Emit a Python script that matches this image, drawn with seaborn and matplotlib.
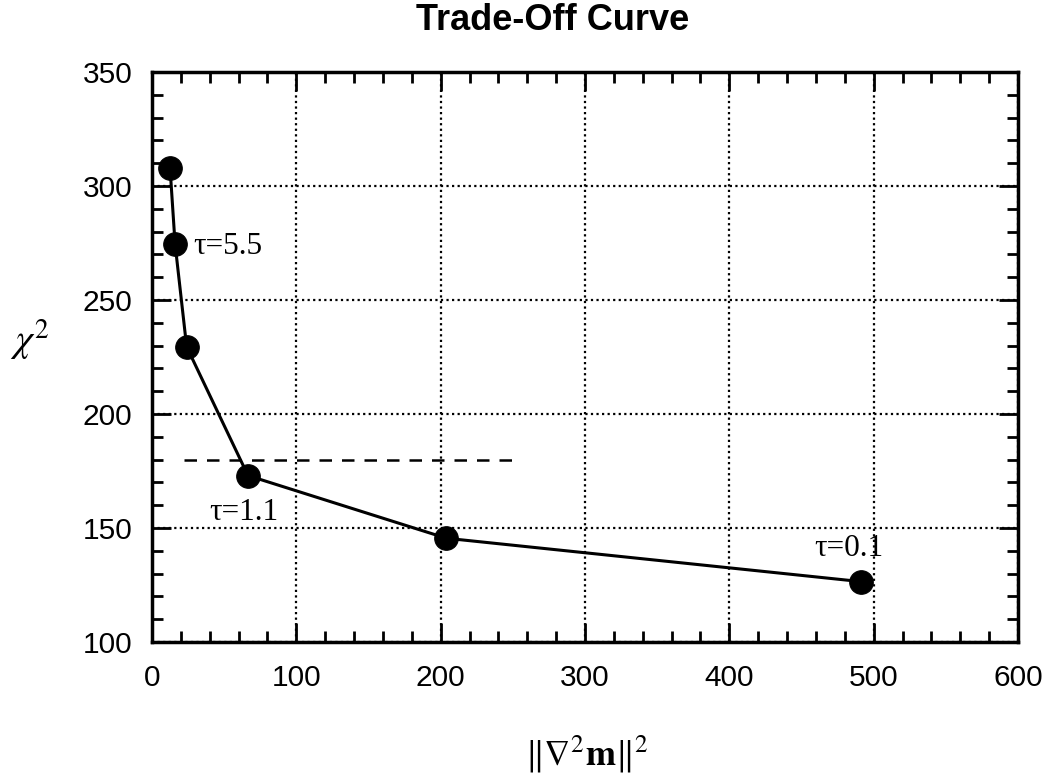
import matplotlib
matplotlib.use("Agg")
import matplotlib.pyplot as plt
import seaborn as sns
import pandas as pd
from matplotlib.ticker import MultipleLocator

# Data
norm_vals = [12.5, 16, 24, 66.5, 204, 491]
chi2_vals = [308, 274.5, 229.5, 173, 145.5, 126.5]
target_x = [22, 252]
target_y = [180, 180]
labels = ["τ=5.5", "τ=1.1", "τ=0.1"]
label_pos = [(28.5, 273.5), (40, 157), (459, 141)]

sns.set_theme(style="ticks")
plt.rcParams['font.family'] = ['Liberation Sans', 'DejaVu Sans']
plt.rcParams['mathtext.fontset'] = 'stix'
plt.rcParams['text.color'] = 'black'
plt.rcParams['axes.labelcolor'] = 'black'
plt.rcParams['xtick.color'] = 'black'
plt.rcParams['ytick.color'] = 'black'

df = pd.DataFrame({"norm": norm_vals, "chi2": chi2_vals})

fig = plt.figure(figsize=(10.44, 7.73), dpi=100)
ax = fig.add_axes([152/1044, 1-642/773, (1018-152)/1044, (642-72)/773])

sns.lineplot(data=df, x="norm", y="chi2", ax=ax, color="black", linewidth=2.2,
             marker="o", markersize=17, markeredgecolor="black",
             markerfacecolor="black", sort=False, zorder=3)
ax.plot(target_x, target_y, color="black", linestyle=(0, (5, 4)), linewidth=1.8, zorder=2)

for t, (x, y) in zip(labels, label_pos):
    ax.text(x, y, t, fontsize=22.5, family=['Liberation Serif'], va="center", ha="left", zorder=4)

ax.set_xlim(0, 600)
ax.set_ylim(100, 350)
ax.xaxis.set_major_locator(MultipleLocator(100))
ax.xaxis.set_minor_locator(MultipleLocator(20))
ax.yaxis.set_major_locator(MultipleLocator(50))
ax.yaxis.set_minor_locator(MultipleLocator(10))
ax.grid(True, which="major", color="black", linestyle=(0, (1, 1.5)), linewidth=1.6)
ax.tick_params(which="both", direction="in", top=True, right=True, color="black")
ax.tick_params(which="major", length=14, width=2, labelsize=21.5, labelcolor="black")
ax.tick_params(axis="y", which="major", pad=14)
ax.tick_params(axis="x", which="major", pad=16)
ax.tick_params(which="minor", length=8, width=2)
for s in ax.spines.values():
    s.set_linewidth(2.5)
    s.set_color("black")

ax.set_title("Trade-Off Curve", fontsize=26, fontweight="bold", pad=30, color="black", x=0.463)
ax.set_xlabel(r"$\|\nabla^2\mathbf{m}\|^2$", fontsize=26, va="baseline")
ax.xaxis.set_label_coords(0.502, -0.216)
ax.set_ylabel(r"$\chi^2$", fontsize=28, rotation=0, va="center", ha="center")
ax.yaxis.set_label_coords(-0.141, 0.53)

fig.savefig("out.png", dpi=100)
